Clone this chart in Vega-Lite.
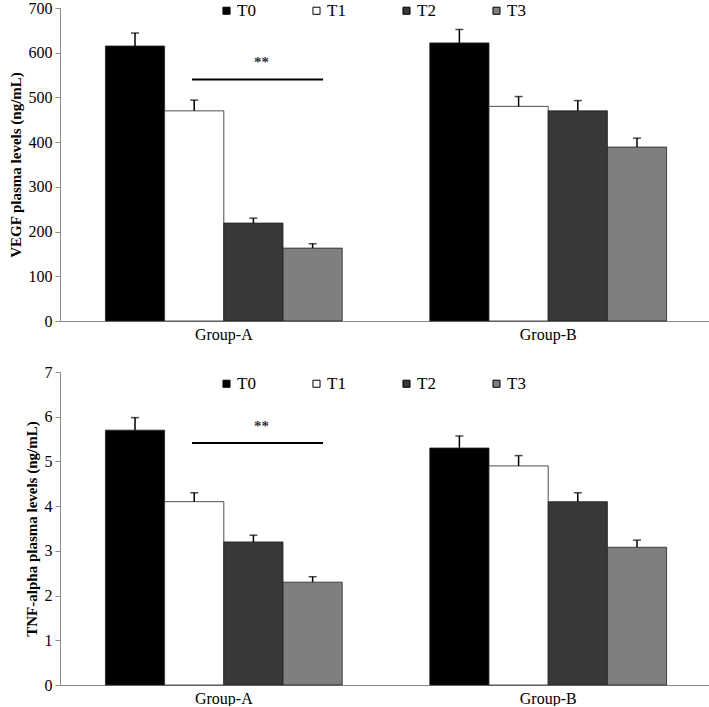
{
  "$schema": "https://vega.github.io/schema/vega-lite/v6.json",
  "padding": {"left": 8, "top": 0, "right": 0, "bottom": 0},
  "datasets": {
    "vegf": [
      {"group": "Group-A", "series": "T0", "value": 615, "hi": 644},
      {"group": "Group-A", "series": "T1", "value": 470, "hi": 494},
      {"group": "Group-A", "series": "T2", "value": 219, "hi": 230},
      {"group": "Group-A", "series": "T3", "value": 163, "hi": 173},
      {"group": "Group-B", "series": "T0", "value": 622, "hi": 652},
      {"group": "Group-B", "series": "T1", "value": 480, "hi": 502},
      {"group": "Group-B", "series": "T2", "value": 470, "hi": 493},
      {"group": "Group-B", "series": "T3", "value": 389, "hi": 409}
    ],
    "tnf": [
      {"group": "Group-A", "series": "T0", "value": 5.7, "hi": 5.98},
      {"group": "Group-A", "series": "T1", "value": 4.1, "hi": 4.3},
      {"group": "Group-A", "series": "T2", "value": 3.2, "hi": 3.35},
      {"group": "Group-A", "series": "T3", "value": 2.3, "hi": 2.42},
      {"group": "Group-B", "series": "T0", "value": 5.3, "hi": 5.57},
      {"group": "Group-B", "series": "T1", "value": 4.9, "hi": 5.13},
      {"group": "Group-B", "series": "T2", "value": 4.1, "hi": 4.3},
      {"group": "Group-B", "series": "T3", "value": 3.08, "hi": 3.24}
    ]
  },
  "vconcat": [
    {
      "width": 652,
      "height": 313,
      "layer": [
        {
          "data": {"name": "vegf"},
          "encoding": {
            "x": {"field": "group", "type": "nominal", "scale": {"paddingInner": 0.27, "paddingOuter": 0.14},
                  "axis": {"title": null, "labelAngle": 0, "ticks": false, "labelFontSize": 16, "labelPadding": 5}},
            "xOffset": {"field": "series", "type": "nominal", "scale": {"domain": ["T0", "T1", "T2", "T3"], "paddingInner": 0, "paddingOuter": 0}}
          },
          "layer": [
            {
              "mark": {"type": "bar", "stroke": "#222", "strokeWidth": 0.8},
              "encoding": {
                "y": {"field": "value", "type": "quantitative", "scale": {"domain": [0, 700], "nice": false},
                      "axis": {"title": "VEGF plasma levels (ng/mL)", "values": [0, 100, 200, 300, 400, 500, 600, 700]}},
                "color": {"field": "series", "type": "nominal",
                          "scale": {"domain": ["T0", "T1", "T2", "T3"], "range": ["#000000", "#ffffff", "#383838", "#7f7f7f"]},
                          "legend": {"title": null, "orient": "none", "legendX": 158, "legendY": -6, "direction": "horizontal", "columns": 4}}
              }
            },
            {
              "mark": {"type": "rule", "color": "#000", "strokeWidth": 1.5},
              "encoding": {
                "y": {"field": "value", "type": "quantitative", "title": "VEGF plasma levels (ng/mL)"},
                "y2": {"field": "hi"}
              }
            },
            {
              "mark": {"type": "tick", "color": "#000", "size": 8, "thickness": 1.5},
              "encoding": {
                "y": {"field": "hi", "type": "quantitative", "title": "VEGF plasma levels (ng/mL)"}
              }
            }
          ]
        },
        {
          "data": {"values": [{"x1": 0.405, "x2": 0.807, "y": 540, "xt": 0.618, "yt": 580, "label": "**"}]},
          "layer": [
            {
              "mark": {"type": "rule", "color": "#000", "strokeWidth": 2},
              "encoding": {
                "x": {"field": "x1", "type": "quantitative", "scale": {"domain": [0, 2], "nice": false, "zero": false}, "axis": null},
                "x2": {"field": "x2"},
                "y": {"field": "y", "type": "quantitative", "title": "VEGF plasma levels (ng/mL)"}
              }
            },
            {
              "mark": {"type": "text", "fontSize": 15, "font": "Liberation Serif", "color": "#333", "fontWeight": "bold"},
              "encoding": {
                "x": {"field": "xt", "type": "quantitative", "scale": {"domain": [0, 2], "nice": false, "zero": false}, "axis": null},
                "y": {"field": "yt", "type": "quantitative", "title": "VEGF plasma levels (ng/mL)"},
                "text": {"field": "label"}
              }
            }
          ]
        }
      ],
      "resolve": {"scale": {"x": "independent"}}
    },
    {
      "width": 652,
      "height": 313,
      "layer": [
        {
          "data": {"name": "tnf"},
          "encoding": {
            "x": {"field": "group", "type": "nominal", "scale": {"paddingInner": 0.27, "paddingOuter": 0.14},
                  "axis": {"title": null, "labelAngle": 0, "ticks": false, "labelFontSize": 16, "labelPadding": 5}},
            "xOffset": {"field": "series", "type": "nominal", "scale": {"domain": ["T0", "T1", "T2", "T3"], "paddingInner": 0, "paddingOuter": 0}}
          },
          "layer": [
            {
              "mark": {"type": "bar", "stroke": "#222", "strokeWidth": 0.8},
              "encoding": {
                "y": {"field": "value", "type": "quantitative", "scale": {"domain": [0, 7], "nice": false},
                      "axis": {"title": "TNF-alpha plasma levels (ng/mL)", "values": [0, 1, 2, 3, 4, 5, 6, 7]}},
                "color": {"field": "series", "type": "nominal",
                          "scale": {"domain": ["T0", "T1", "T2", "T3"], "range": ["#000000", "#ffffff", "#383838", "#7f7f7f"]},
                          "legend": {"title": null, "orient": "none", "legendX": 158, "legendY": 3, "direction": "horizontal", "columns": 4}}
              }
            },
            {
              "mark": {"type": "rule", "color": "#000", "strokeWidth": 1.5},
              "encoding": {
                "y": {"field": "value", "type": "quantitative", "title": "TNF-alpha plasma levels (ng/mL)"},
                "y2": {"field": "hi"}
              }
            },
            {
              "mark": {"type": "tick", "color": "#000", "size": 8, "thickness": 1.5},
              "encoding": {
                "y": {"field": "hi", "type": "quantitative", "title": "TNF-alpha plasma levels (ng/mL)"}
              }
            }
          ]
        },
        {
          "data": {"values": [{"x1": 0.405, "x2": 0.807, "y": 5.41, "xt": 0.618, "yt": 5.79, "label": "**"}]},
          "layer": [
            {
              "mark": {"type": "rule", "color": "#000", "strokeWidth": 2},
              "encoding": {
                "x": {"field": "x1", "type": "quantitative", "scale": {"domain": [0, 2], "nice": false, "zero": false}, "axis": null},
                "x2": {"field": "x2"},
                "y": {"field": "y", "type": "quantitative", "title": "TNF-alpha plasma levels (ng/mL)"}
              }
            },
            {
              "mark": {"type": "text", "fontSize": 15, "font": "Liberation Serif", "color": "#333", "fontWeight": "bold"},
              "encoding": {
                "x": {"field": "xt", "type": "quantitative", "scale": {"domain": [0, 2], "nice": false, "zero": false}, "axis": null},
                "y": {"field": "yt", "type": "quantitative", "title": "TNF-alpha plasma levels (ng/mL)"},
                "text": {"field": "label"}
              }
            }
          ]
        }
      ],
      "resolve": {"scale": {"x": "independent"}}
    }
  ],
  "resolve": {"legend": {"color": "independent"}},
  "spacing": 22,
  "config": {
    "view": {"stroke": null},
    "font": "Liberation Serif",
    "axis": {
      "labelFont": "Liberation Serif", "titleFont": "Liberation Serif",
      "labelColor": "#000", "titleColor": "#000",
      "domainColor": "#8a8a8a", "tickColor": "#8a8a8a", "grid": false
    },
    "axisY": {"labelFontSize": 16, "tickSize": 5, "labelPadding": 3, "titleFontSize": 15, "titleFontWeight": "bold", "titlePadding": 5},
    "legend": {
      "labelFont": "Liberation Serif", "labelFontSize": 17, "labelColor": "#000",
      "symbolType": "square", "symbolSize": 50, "symbolStrokeColor": "#000", "symbolStrokeWidth": 1,
      "labelOffset": 2, "columnPadding": 52
    }
  }
}
